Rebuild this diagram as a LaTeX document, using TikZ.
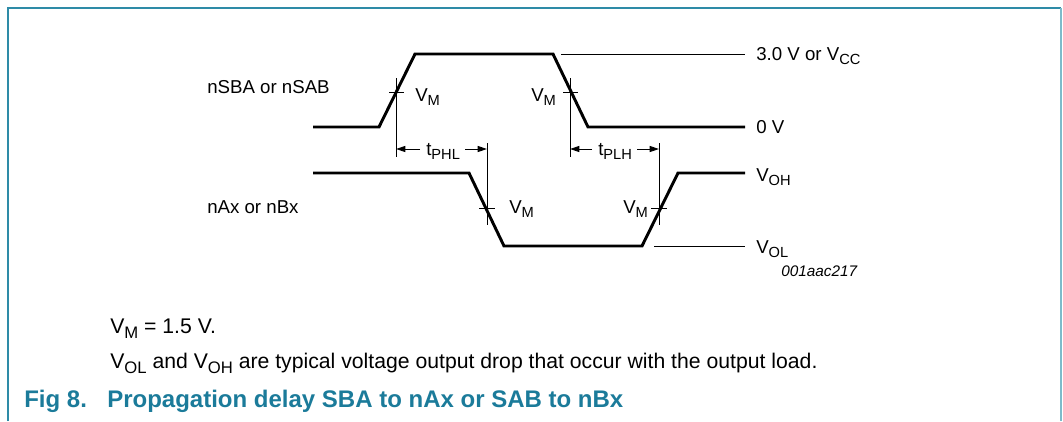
\documentclass[tikz,border=0pt]{standalone}
\usepackage{fontspec}
\setmainfont{Liberation Sans}
\usetikzlibrary{arrows.meta}
\definecolor{teal}{HTML}{1B7B9A}
\definecolor{frameL}{HTML}{2E8BA7}
\definecolor{frameR}{HTML}{7DBBCA}
\newcommand\sbs[1]{\raisebox{-0.5ex}{\fontsize{11}{13}\selectfont #1}}
\newcommand\sbsn[1]{\raisebox{-0.5ex}{\fontsize{12.5}{15}\selectfont #1}}
\tikzset{
  sig/.style={line width=2.2pt, line join=miter},
  thin/.style={line width=0.7pt},
  lbl/.style={inner sep=0pt, anchor=base west, font=\fontsize{14}{17}\selectfont},
  note/.style={inner sep=0pt, anchor=base west, font=\fontsize{15.9}{19}\selectfont},
  dim/.style={line width=0.7pt, -{Triangle[length=7pt,width=4.5pt]}},
}
\begin{document}
\begin{tikzpicture}[x=0.75pt,y=-0.75pt]
\useasboundingbox (0,0) rectangle (1063,421);
% frame
\draw[frameL, line width=1.2pt] (8,421) -- (8,8) -- (1061,8);
\draw[frameR, line width=1.5pt] (1061,8) -- (1061,421);

% input signal
\coordinate (a0) at (313,127);
\coordinate (a1) at (379,127);
\coordinate (a2) at (415,54);
\coordinate (a3) at (553,54);
\coordinate (a4) at (588,127);
\coordinate (a5) at (745,127);
\draw[sig] (a0) -- (a1) -- (a2) -- (a3) -- (a4) -- (a5);
\coordinate (h0) at (561,54);
\coordinate (h1) at (745,54);
\draw[thin] (h0) -- (h1);

% output signal
\coordinate (b0) at (313,173);
\coordinate (b1) at (469,173);
\coordinate (b2) at (504,246);
\coordinate (b3) at (642,246);
\coordinate (b4) at (678,173);
\coordinate (b5) at (745,173);
\draw[sig] (b0) -- (b1) -- (b2) -- (b3) -- (b4) -- (b5);
\coordinate (l0) at (654,246);
\coordinate (l1) at (745,246);
\draw[thin] (l0) -- (l1);

% measurement markers
\coordinate (m1t) at (396,78);  \coordinate (m1b) at (396,157);
\coordinate (m2t) at (570,78);  \coordinate (m2b) at (570,157);
\coordinate (m3t) at (487,143); \coordinate (m3b) at (487,225);
\coordinate (m4t) at (659,143); \coordinate (m4b) at (659,225);
\draw[thin] (m1t) -- (m1b);
\draw[thin] (m2t) -- (m2b);
\draw[thin] (m3t) -- (m3b);
\draw[thin] (m4t) -- (m4b);
\coordinate (k1a) at (389,92.5); \coordinate (k1b) at (404,92.5);
\coordinate (k2a) at (563,92.5); \coordinate (k2b) at (578,92.5);
\coordinate (k3a) at (479,208);  \coordinate (k3b) at (495,208);
\coordinate (k4a) at (651,208);  \coordinate (k4b) at (667,208);
\draw[thin] (k1a) -- (k1b);
\draw[thin] (k2a) -- (k2b);
\draw[thin] (k3a) -- (k3b);
\draw[thin] (k4a) -- (k4b);

% delay labels and arrows
\node[lbl] (tphl) at (426,155) {t\sbs{PHL}};
\node[lbl] (tplh) at (598,155) {t\sbs{PLH}};
\coordinate (p1) at (396,149); \coordinate (p2) at (487,149);
\coordinate (q1) at (570,149); \coordinate (q2) at (659,149);
\draw[dim] (tphl.west |- p1) ++(-6,0) -- (p1);
\draw[dim] (tphl.east |- p2) ++(5,0) -- (p2);
\draw[dim] (tplh.west |- q1) ++(-6,0) -- (q1);
\draw[dim] (tplh.east |- q2) ++(5,0) -- (q2);

% VM labels
\node[lbl] (vm1) at (415,101) {V\sbs{M}};
\node[lbl] (vm2) at (531,101) {V\sbs{M}};
\node[lbl] (vm3) at (509,213) {V\sbs{M}};
\node[lbl] (vm4) at (623,213) {V\sbs{M}};

% signal names
\node[lbl] (nsba) at (207,93) {nSBA or nSAB};
\node[lbl] (nax) at (207,213) {nAx or nBx};

% level labels
\node[lbl] (vcc) at (756,60) {3.0 V or V\sbs{CC}};
\node[lbl] (zv) at (756,133) {0 V};
\node[lbl] (voh) at (756,181) {V\sbs{OH}};
\node[lbl] (vol) at (756,253) {V\sbs{OL}};
\node[lbl, font=\fontsize{11.5}{14}\itshape] (code) at (781,276) {001aac217};

% notes
\node[note] (note1) at (110,333) {V\sbsn{M} = 1.5 V.};
\node[note] (note2) at (110,368) {V\sbsn{OL} and V\sbsn{OH} are typical voltage output drop that occur with the output load.};
\node[lbl, font=\fontsize{18}{21}\bfseries, text=teal] (fig) at (24,407) {Fig 8.};
\node[lbl, font=\fontsize{18}{21}\bfseries, text=teal] (title) at (107,407) {Propagation delay SBA to nAx or SAB to nBx};
\end{tikzpicture}
\end{document}
